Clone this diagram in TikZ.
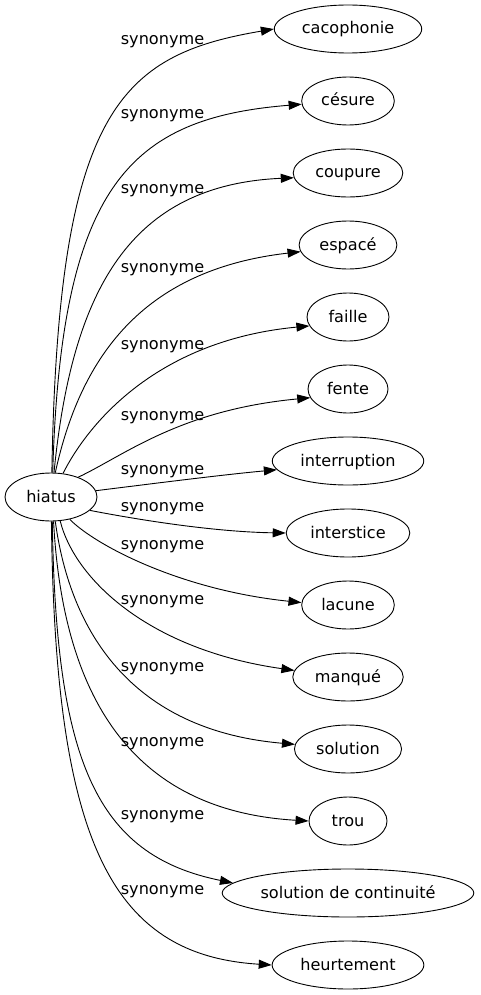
\documentclass[tikz,border=0pt]{standalone}
\usepackage{fontspec}
\setmainfont{DejaVu Sans}
\usepackage{tikz}
\usetikzlibrary{shapes.geometric, arrows.meta, positioning}
\tikzstyle{word} = [ellipse, draw=black, line width=0.9pt, minimum width=78pt, minimum height=48pt, inner xsep=6pt, text height=13pt, text depth=3pt, align=center]
\tikzstyle{rel} = [anchor=base, inner sep=0pt]
\tikzstyle{arrow} = [line width=0.9pt, -{Triangle[length=13pt, width=9pt]}]

\begin{document}
\begin{tikzpicture}[x=1pt, y=-1pt, node distance=23.1pt, every node/.style={font=\fontsize{16.1pt}{19pt}\selectfont}]
            \useasboundingbox (0,0) rectangle (481,995);
            \node[word, minimum width=92pt] (hiatus) at (51,497) {hiatus};
            \node[word] (cacophonie) at (348,29) {cacophonie};
            \node[word, below=of cacophonie] (cesure) {césure};
            \node[word, below=of cesure] (coupure) {coupure};
            \node[word, below=of coupure] (espace) {espacé};
            \node[word, minimum width=82pt, below=of espace] (faille) {faille};
            \node[word, minimum width=80pt, below=of faille] (fente) {fente};
            \node[word, below=of fente] (interruption) {interruption};
            \node[word, below=of interruption] (interstice) {interstice};
            \node[word, below=of interstice] (lacune) {lacune};
            \node[word, below=of lacune] (manque) {manqué};
            \node[word, below=of manque] (solution) {solution};
            \node[word, below=of solution] (trou) {trou};
            \node[word, inner xsep=1.5pt, below=of trou] (continuite) {solution de continuité};
            \node[word, below=of continuite] (heurtement) {heurtement};

            \node[rel] (syn1) at (162.5,44.5) {synonyme};
            \node[rel] (syn2) at (162.5,118.5) {synonyme};
            \node[rel] (syn3) at (162.5,193.5) {synonyme};
            \node[rel] (syn4) at (162.5,272.5) {synonyme};
            \node[rel] (syn5) at (162.5,349.5) {synonyme};
            \node[rel] (syn6) at (162.5,420.5) {synonyme};
            \node[rel] (syn7) at (162.5,474.5) {synonyme};
            \node[rel] (syn8) at (162.5,511.5) {synonyme};
            \node[rel] (syn9) at (162.5,549.5) {synonyme};
            \node[rel] (syn10) at (162.5,604.5) {synonyme};
            \node[rel] (syn11) at (162.5,671.5) {synonyme};
            \node[rel] (syn12) at (162.5,746.5) {synonyme};
            \node[rel] (syn13) at (162.5,819.5) {synonyme};
            \node[rel] (syn14) at (162.5,894.5) {synonyme};

            \draw[arrow] (hiatus.88) .. controls (58,110) and (120,55) .. (cacophonie.west);
            \draw[arrow] (hiatus.86) .. controls (61,185) and (130,118) .. (cesure.184);
            \draw[arrow] (hiatus.83) .. controls (72,290) and (130,185) .. (coupure.185);
            \draw[arrow] (hiatus.80) .. controls (80,360) and (140,270) .. (espace.188);
            \draw[arrow] (hiatus.63) .. controls (90,420) and (160,340) .. (faille.193);
            \draw[arrow] (hiatus.36) .. controls (125,455) and (180,410) .. (fente.193);
            \draw[arrow] (hiatus.8) .. controls (150,484) and (220,475) .. (interruption.187);
            \draw[arrow] (hiatus.-19) .. controls (150,522) and (220,532) .. (interstice.west);
            \draw[arrow] (hiatus.-50) .. controls (95,545) and (180,590) .. (lacune.177);
            \draw[arrow] (hiatus.-69) .. controls (75,580) and (150,650) .. (manque.173);
            \draw[arrow] (hiatus.-80) .. controls (70,630) and (130,730) .. (solution.175);
            \draw[arrow] (hiatus.-84) .. controls (62,680) and (120,810) .. (trou.west);
            \draw[arrow] (hiatus.-87) .. controls (56,760) and (95,855) .. (continuite.175);
            \draw[arrow] (hiatus.-89) .. controls (55,840) and (110,955) .. (heurtement.west);
        \end{tikzpicture}
\end{document}
